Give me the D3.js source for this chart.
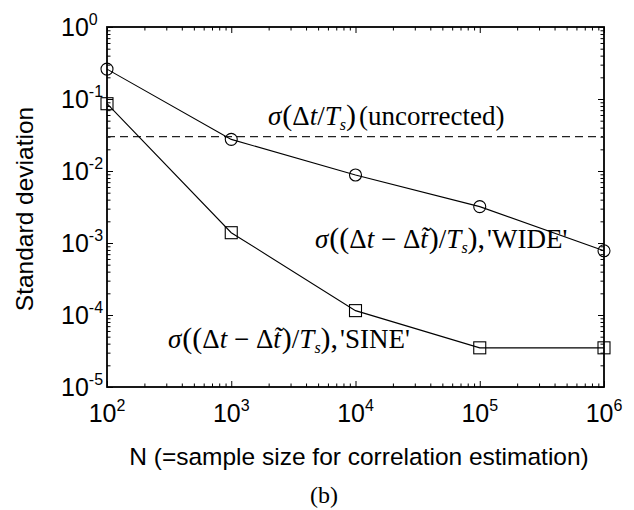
<!DOCTYPE html>
<html>
<head>
<meta charset="utf-8">
<script src="https://cdn.jsdelivr.net/npm/d3@7"></script>
<style>
  html, body { margin: 0; padding: 0; background: #fff; }
  svg { display: block; }
</style>
</head>
<body>
<svg id="chart" width="634" height="510"></svg>
<script>
// ---- data ----
const sampleSizes = [1e2, 1e3, 1e4, 1e5, 1e6];
const wideValues = [0.26, 0.0275, 0.0088, 0.0032, 0.00078];
const sineValues = [0.086, 0.00139, 0.000115, 0.000035, 0.000035];
const uncorrectedValue = 0.030;
const xTickExponents = [2, 3, 4, 5, 6];
const yTickExponents = [0, -1, -2, -3, -4, -5];
const xAxisTitle = "N (=sample size for correlation estimation)";
const yAxisTitle = "Standard deviation";
const panelLabel = "(b)";

// ---- layout ----
const L = 107, R = 604, T = 27, B = 387;
const svg = d3.select("#chart");
const x = d3.scaleLog().domain([1e2, 1e6]).range([L, R]);
const y = d3.scaleLog().domain([1e-5, 1]).range([B, T]);

const sans = "'Liberation Sans', Arial, sans-serif";
const serif = "'Liberation Serif', 'Times New Roman', serif";

// minor tick values
const xMinor = [], yMinor = [];
for (let e = 2; e < 6; e++) for (let m = 2; m <= 9; m++) xMinor.push(m * Math.pow(10, e));
for (let e = -5; e < 0; e++) for (let m = 2; m <= 9; m++) yMinor.push(m * Math.pow(10, e));
const xMajor = xTickExponents.map(e => Math.pow(10, e));
const yMajor = yTickExponents.map(e => Math.pow(10, e));

function addAxis(gen, transform, values, size) {
  const g = svg.append("g").attr("transform", transform)
    .call(gen.tickValues(values).tickSize(size).tickFormat(""));
  g.select(".domain").remove();
  g.selectAll(".tick line").attr("stroke", "#000").attr("stroke-width", 1);
  return g;
}
// inward ticks (negative size)
addAxis(d3.axisBottom(x), `translate(0,${B})`, xMinor, -3.5);
addAxis(d3.axisBottom(x), `translate(0,${B})`, xMajor, -6);
addAxis(d3.axisTop(x), `translate(0,${T})`, xMinor, -3.5);
addAxis(d3.axisTop(x), `translate(0,${T})`, xMajor, -6);
addAxis(d3.axisLeft(y), `translate(${L},0)`, yMinor, -3.5);
addAxis(d3.axisLeft(y), `translate(${L},0)`, yMajor, -6);
addAxis(d3.axisRight(y), `translate(${R},0)`, yMinor, -3.5);
addAxis(d3.axisRight(y), `translate(${R},0)`, yMajor, -6);

// frame
svg.append("rect").attr("x", L).attr("y", T).attr("width", R - L).attr("height", B - T)
  .attr("fill", "none").attr("stroke", "#000").attr("stroke-width", 1.8);

// x tick labels
xTickExponents.forEach(e => {
  const t = svg.append("text").attr("x", x(Math.pow(10, e))).attr("y", 422)
    .attr("text-anchor", "middle").attr("font-family", sans).attr("font-size", 25).attr("fill", "#000");
  t.append("tspan").text("10");
  t.append("tspan").attr("dy", -11).attr("font-size", 16).text(String(e));
});
// y tick labels
yTickExponents.forEach(e => {
  const t = svg.append("text").attr("x", 61).attr("y", y(Math.pow(10, e)) + 9)
    .attr("text-anchor", "start").attr("font-family", sans).attr("font-size", 25).attr("fill", "#000");
  t.append("tspan").text("10");
  t.append("tspan").attr("dy", -11).attr("font-size", 16).text(e === 0 ? "0" : "-" + Math.abs(e));
});

// axis titles
svg.append("text").attr("x", 359).attr("y", 465).attr("text-anchor", "middle")
  .attr("font-family", sans).attr("font-size", 24.5).attr("fill", "#000").text(xAxisTitle);
svg.append("text").attr("transform", "translate(33,209) rotate(-90)").attr("text-anchor", "middle")
  .attr("font-family", sans).attr("font-size", 24.5).attr("fill", "#000").text(yAxisTitle);
svg.append("text").attr("x", 324).attr("y", 503).attr("text-anchor", "middle")
  .attr("font-family", serif).attr("font-size", 24).attr("fill", "#000").text(panelLabel);

// dashed uncorrected line
svg.append("line").attr("x1", x(1e2)).attr("x2", x(1e6))
  .attr("y1", y(uncorrectedValue)).attr("y2", y(uncorrectedValue))
  .attr("stroke", "#222").attr("stroke-width", 1.2).attr("stroke-dasharray", "8,5");

// series lines
const line = d3.line().x((d, i) => x(sampleSizes[i])).y(d => y(d));
[wideValues, sineValues].forEach(vals => {
  svg.append("path").attr("d", line(vals)).attr("fill", "none")
    .attr("stroke", "#000").attr("stroke-width", 1.1);
});
// markers
svg.selectAll("circle.wide").data(wideValues).enter().append("circle")
  .attr("cx", (d, i) => x(sampleSizes[i])).attr("cy", d => y(d)).attr("r", 6)
  .attr("fill", "none").attr("stroke", "#000").attr("stroke-width", 1.1);
svg.selectAll("rect.sine").data(sineValues).enter().append("rect")
  .attr("x", (d, i) => x(sampleSizes[i]) - 6).attr("y", d => y(d) - 6)
  .attr("width", 12).attr("height", 12)
  .attr("fill", "none").attr("stroke", "#000").attr("stroke-width", 1.1);

// math labels
function mathLabel(px, py, parts) {
  const t = svg.append("text").attr("x", px).attr("y", py)
    .attr("font-family", serif).attr("font-size", 27).attr("fill", "#000");
  parts.forEach(p => {
    const s = t.append("tspan").text(p.t);
    if (p.i) s.attr("font-style", "italic");
    if (p.fs) s.attr("font-size", p.fs);
    if (p.dx) s.attr("dx", p.dx);
    if (p.dy) s.attr("dy", p.dy);
  });
  return t;
}
const P = 30; // size for large parentheses
mathLabel(268, 125, [
  {t: "σ", i: 1}, {t: "(", fs: P, dx: 1}, {t: "Δ"}, {t: "t", i: 1}, {t: "/"}, {t: "T", i: 1},
  {t: "s", i: 1, fs: 16, dy: 5}, {t: ")", fs: P, dy: -5}, {t: "(uncorrected)", dx: 3}
]);
function tildeLabel(px, py, tail) {
  return mathLabel(px, py, [
    {t: "σ", i: 1}, {t: "((", fs: P, dx: 1}, {t: "Δ"}, {t: "t", i: 1}, {t: " − "},
    {t: "Δ"}, {t: "t\u0303", i: 1}, {t: ")", fs: P, dx: 1}, {t: "/"},
    {t: "T", i: 1}, {t: "s", i: 1, fs: 16, dy: 5}, {t: "),", fs: P, dy: -5}, {t: tail, dx: 2}
  ]);
}
tildeLabel(315, 248, "'WIDE'");
tildeLabel(168, 348, "'SINE'");
</script>
</body>
</html>
